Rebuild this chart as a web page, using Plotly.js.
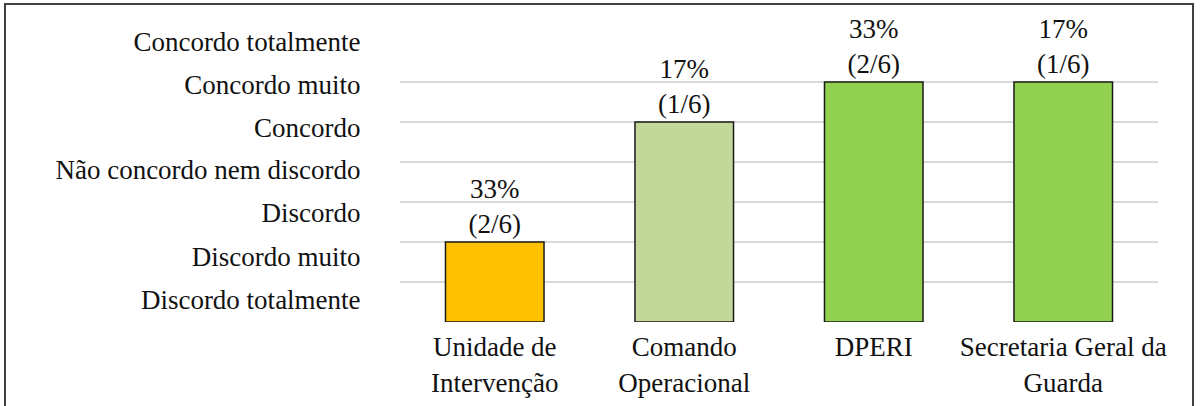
<!DOCTYPE html>
<html>
<head>
<meta charset="utf-8">
<script src="https://cdn.plot.ly/plotly-3.0.1.min.js"></script>
<style>html,body{margin:0;padding:0;background:#fff;}#chart{width:1203px;height:406px;}</style>
</head>
<body>
<div id="chart"></div>
<script>
var categories = ["Unidade de<br>Intervenção", "Comando<br>Operacional", "DPERI", "Secretaria Geral da<br>Guarda"];
var values = [2, 5, 6, 6];
var pctLabels = ["33%", "17%", "33%", "17%"];
var fracLabels = ["(2/6)", "(1/6)", "(2/6)", "(1/6)"];
var barColors = ["#FFC000", "#C4D79B", "#92D050", "#92D050"];
var scaleLabels = ["Discordo totalmente", "Discordo muito", "Discordo", "Não concordo nem discordo", "Concordo", "Concordo muito", "Concordo totalmente"];
var scaleLabelPos = [0.55, 1.625, 2.725, 3.8, 4.85, 5.925, 7.0];
var gridVals = [0, 1, 2, 3, 4, 5, 6, 7];

var font = {family: "Liberation Serif", size: 27, color: "#111111"};

var barText = values.map(function(v, i){ return pctLabels[i] + "<br>" + fracLabels[i]; });

var trace = {
  type: "bar",
  x: categories,
  y: values,
  width: 0.52,
  marker: {color: barColors, line: {color: "#1a1a1a", width: 1.5}},
  text: barText,
  textposition: "outside",
  textfont: font,
  constraintext: "none",
  cliponaxis: false,
  hoverinfo: "none"
};

var dummy = {
  type: "scatter", x: [categories[0]], y: [0], yaxis: "y2",
  mode: "markers", marker: {opacity: 0}, hoverinfo: "none", showlegend: false
};

var layout = {
  width: 1203, height: 406,
  margin: {l: 400, r: 45, t: 42, b: 84},
  paper_bgcolor: "#ffffff", plot_bgcolor: "#ffffff",
  showlegend: false,
  font: font,
  bargap: 0.48,
  xaxis: {
    tickfont: font, showgrid: false, zeroline: false, showline: false,
    ticks: "outside", ticklen: 1, tickcolor: "rgba(0,0,0,0)", tickangle: 0
  },
  yaxis: {
    range: [0, 7], tickvals: gridVals, showticklabels: false,
    showgrid: true, gridcolor: "#D9D9D9", gridwidth: 1.5,
    zeroline: false, showline: false, ticks: "", fixedrange: true
  },
  yaxis2: {
    overlaying: "y", side: "left", range: [0, 7],
    tickvals: scaleLabelPos, ticktext: scaleLabels, tickfont: font,
    showgrid: false, zeroline: false, showline: false,
    ticks: "outside", ticklen: 33, tickcolor: "rgba(0,0,0,0)"
  },
  shapes: [{
    type: "rect", xref: "paper", yref: "paper",
    x0: (5 - 400) / 758, x1: (1193 - 400) / 758,
    y0: (322 - 420) / 280, y1: (322 - 4) / 280,
    line: {color: "#404040", width: 2}, fillcolor: "rgba(0,0,0,0)"
  }]
};

Plotly.newPlot("chart", [trace, dummy], layout, {staticPlot: true, displayModeBar: false});
</script>
</body>
</html>
